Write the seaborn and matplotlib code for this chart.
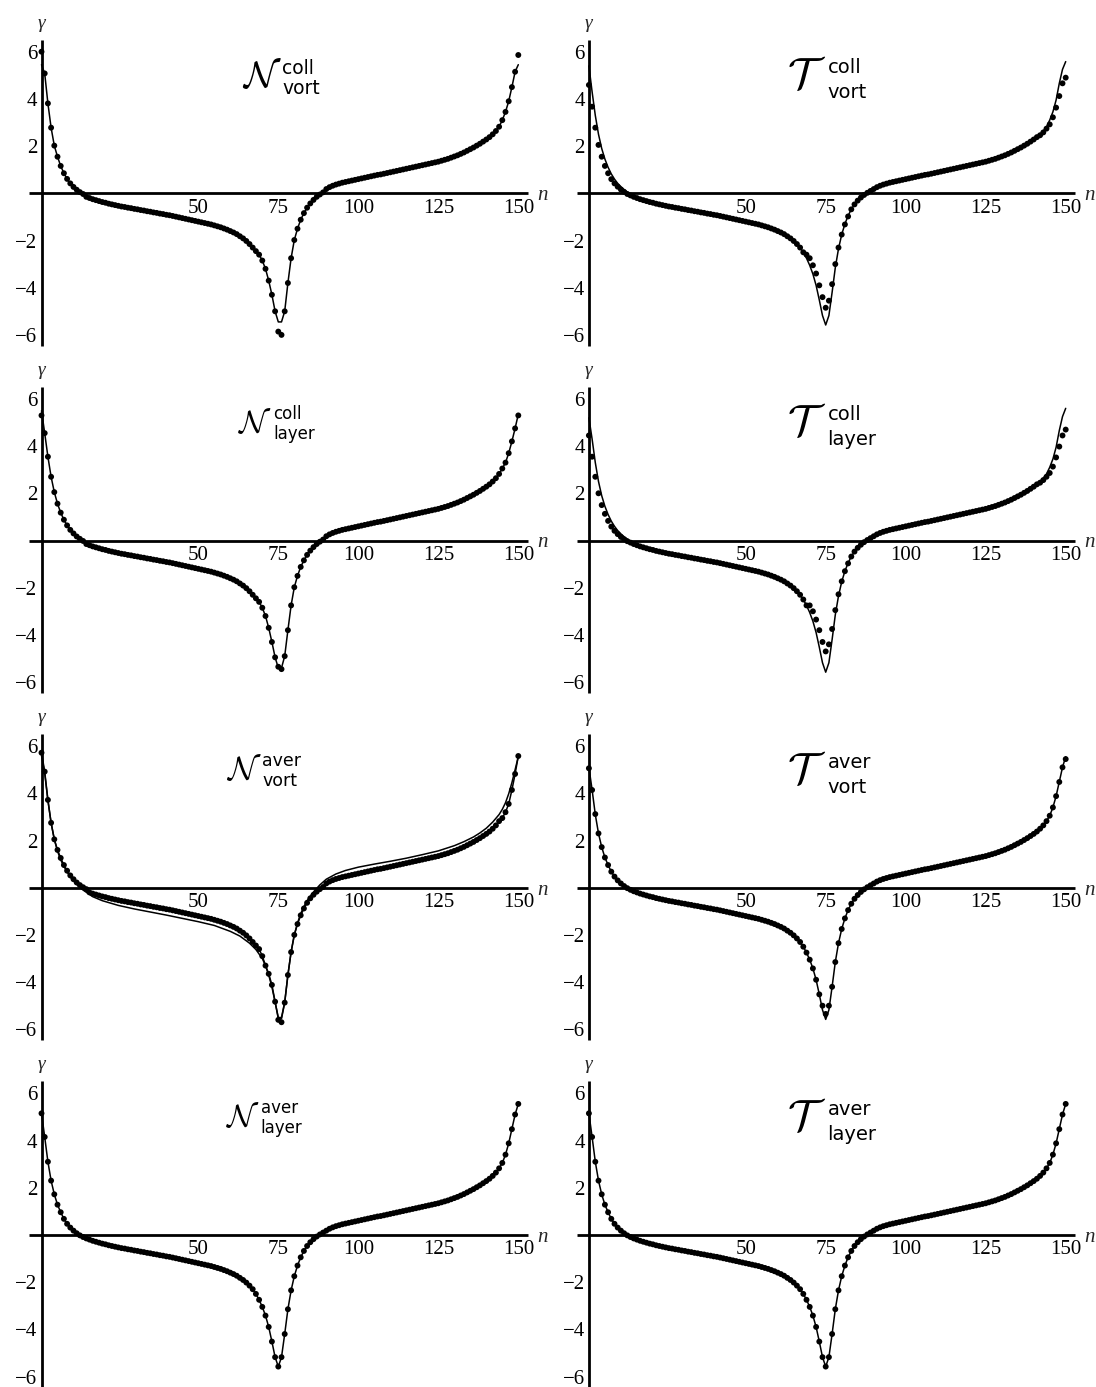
import matplotlib
matplotlib.use("Agg")
import matplotlib.pyplot as plt
import seaborn as sns

# ---------------- data ----------------
N_VALUES = list(range(1, 151))

GAMMA_BASE = [
    5.15, 4.15, 3.10, 2.30, 1.72, 1.28, 0.96, 0.68, 0.47, 0.31,
    0.18, 0.07, -0.02, -0.09, -0.15, -0.20, -0.25, -0.29, -0.33, -0.37,
    -0.40, -0.44, -0.47, -0.50, -0.53, -0.56, -0.58, -0.61, -0.63, -0.66,
    -0.68, -0.71, -0.73, -0.76, -0.78, -0.81, -0.83, -0.86, -0.88, -0.91,
    -0.93, -0.96, -0.99, -1.02, -1.05, -1.08, -1.11, -1.14, -1.17, -1.20,
    -1.23, -1.26, -1.29, -1.32, -1.36, -1.40, -1.44, -1.49, -1.54, -1.60,
    -1.66, -1.73, -1.82, -1.91, -2.02, -2.15, -2.30, -2.50, -2.75, -3.05,
    -3.42, -3.90, -4.52, -5.18, -5.58, -5.18, -4.20, -3.15, -2.35, -1.75,
    -1.30, -0.95, -0.68, -0.47, -0.31, -0.18, -0.07, 0.02, 0.10, 0.18,
    0.26, 0.32, 0.37, 0.41, 0.45, 0.48, 0.51, 0.54, 0.57, 0.60,
    0.63, 0.66, 0.69, 0.72, 0.75, 0.78, 0.80, 0.83, 0.86, 0.89,
    0.92, 0.95, 0.98, 1.01, 1.04, 1.07, 1.10, 1.13, 1.16, 1.19,
    1.22, 1.25, 1.28, 1.31, 1.34, 1.38, 1.42, 1.46, 1.51, 1.56,
    1.61, 1.67, 1.73, 1.80, 1.87, 1.94, 2.02, 2.10, 2.19, 2.28,
    2.38, 2.50, 2.64, 2.82, 3.05, 3.40, 3.88, 4.48, 5.10, 5.55,
]

# panel-specific readings (n -> gamma) where a panel departs from the base curve
NCV_DOTS = {1: 6.0, 2: 5.08, 3: 3.81, 4: 2.78, 5: 2.02, 6: 1.55, 7: 1.16, 8: 0.85,
            9: 0.61, 10: 0.42, 11: 0.27, 12: 0.15, 13: 0.05, 14: -0.03,
            68: -2.45, 69: -2.6, 70: -2.85, 71: -3.2, 72: -3.7, 73: -4.3, 74: -5.0,
            75: -5.86, 76: -6.0, 77: -5.0, 78: -3.8, 79: -2.75, 80: -1.98, 81: -1.5,
            82: -1.12, 83: -0.84, 84: -0.61, 85: -0.43, 86: -0.28, 87: -0.15,
            88: -0.05, 89: 0.04,
            145: 3.1, 146: 3.45, 147: 3.9, 148: 4.5, 149: 5.15, 150: 5.86}
NCV_LINE = {**NCV_DOTS, 1: 5.45, 75: -5.45, 76: -5.45, 150: 5.45}

NCL_DOTS = {1: 5.3, 2: 4.55, 3: 3.55, 4: 2.7, 5: 2.05, 6: 1.56, 7: 1.18, 8: 0.88,
            9: 0.64, 10: 0.45, 11: 0.3, 12: 0.17, 13: 0.07, 14: -0.02,
            68: -2.45, 69: -2.6, 70: -2.85, 71: -3.2, 72: -3.7, 73: -4.3, 74: -4.95,
            75: -5.35, 76: -5.45, 77: -4.9, 78: -3.8, 79: -2.75, 80: -1.98, 81: -1.5,
            82: -1.12, 83: -0.84, 84: -0.61, 85: -0.43, 86: -0.28, 87: -0.15,
            88: -0.05, 89: 0.04,
            146: 3.3, 147: 3.7, 148: 4.2, 149: 4.75, 150: 5.3}
NCL_LINE = {**NCL_DOTS, 1: 5.5, 75: -5.4, 76: -5.4, 150: 5.35}

NAV_DOTS = {1: 5.72, 2: 4.92, 3: 3.72, 4: 2.75, 5: 2.05, 6: 1.6, 7: 1.26, 8: 0.96,
            9: 0.72, 10: 0.52, 11: 0.36, 12: 0.22, 13: 0.11, 14: 0.02, 15: -0.06,
            68: -2.45, 69: -2.6, 70: -2.9, 71: -3.3, 72: -3.65, 73: -4.12, 74: -4.83,
            75: -5.6, 76: -5.7, 77: -4.87, 78: -3.7, 79: -2.73, 80: -2.0, 81: -1.54,
            82: -1.17, 83: -0.88, 84: -0.64, 85: -0.45, 86: -0.3, 87: -0.17,
            88: -0.06, 89: 0.03,
            145: 2.95, 146: 3.2, 147: 3.55, 148: 4.14, 149: 4.82, 150: 5.58}
NAV_LINE = {**NAV_DOTS, 75: -5.55, 76: -5.55}
NAV_LINE2_N = [1, 2, 3, 4, 5, 6, 7, 8, 10, 12, 14, 17, 20, 25, 30, 35, 40, 45, 50,
               55, 60, 63, 66, 68, 70, 71, 72, 73, 74, 75, 76, 77, 78, 79, 80, 81,
               82, 83, 84, 86, 88, 90, 93, 96, 100, 105, 110, 115, 120, 125, 130,
               133, 136, 138, 140, 142, 144, 145, 146, 147, 148, 149, 150]
NAV_LINE2_G = [5.6, 4.85, 3.7, 2.75, 2.05, 1.55, 1.18, 0.9, 0.45, 0.14, -0.1,
               -0.38, -0.55, -0.75, -0.9, -1.03, -1.16, -1.3, -1.44, -1.6, -1.85,
               -2.05, -2.35, -2.62, -3.0, -3.3, -3.7, -4.2, -4.85, -5.5, -5.5, -4.85,
               -3.7, -2.72, -2.0, -1.5, -1.1, -0.8, -0.55, -0.18, 0.12, 0.36, 0.58,
               0.73, 0.87, 1.0, 1.12, 1.25, 1.4, 1.56, 1.78, 1.95, 2.15, 2.32,
               2.52, 2.78, 3.1, 3.32, 3.6, 3.98, 4.45, 5.0, 5.55]

TCV_LINE = {1: 5.4, 2: 4.3, 3: 3.3, 4: 2.5, 5: 1.9, 6: 1.45, 7: 1.1, 8: 0.82, 9: 0.6,
            10: 0.42, 11: 0.28, 12: 0.16, 13: 0.06, 14: -0.03,
            145: 3.1, 146: 3.45, 147: 3.95, 148: 4.66, 149: 5.25, 150: 5.58}
TCV_DOTS = {1: 4.59, 2: 3.67, 3: 2.78, 4: 2.05, 5: 1.55, 6: 1.16, 7: 0.85, 8: 0.6,
            9: 0.42, 10: 0.28, 11: 0.16, 12: 0.06, 13: -0.03,
            69: -2.6, 70: -2.75, 71: -3.05, 72: -3.4, 73: -3.9, 74: -4.4, 75: -4.85,
            76: -4.55, 77: -3.85, 78: -3.0, 79: -2.3, 80: -1.75, 81: -1.32, 82: -0.98,
            142: 2.46, 143: 2.58, 144: 2.74, 145: 2.92, 146: 3.22, 147: 3.63,
            148: 4.12, 149: 4.66, 150: 4.9}

TCL_LINE = {**TCV_LINE, 1: 5.2, 150: 5.6}
TCL_DOTS = {1: 4.45, 2: 3.55, 3: 2.7, 4: 2.0, 5: 1.5, 6: 1.13, 7: 0.83, 8: 0.59,
            9: 0.41, 10: 0.27, 11: 0.15, 12: 0.05, 13: -0.03,
            70: -2.75, 71: -3.0, 72: -3.35, 73: -3.8, 74: -4.3, 75: -4.7, 76: -4.4,
            77: -3.75, 78: -2.95, 79: -2.28, 80: -1.73, 81: -1.3, 82: -0.97,
            142: 2.45, 143: 2.56, 144: 2.7, 145: 2.86, 146: 3.13, 147: 3.52,
            148: 3.98, 149: 4.45, 150: 4.7}

TAV_LINE = {1: 5.1}
TAV_DOTS = {1: 5.06, 2: 4.14, 3: 3.12, 74: -5.0, 75: -5.35, 76: -5.0, 150: 5.45}

NAL_LINE = {}
NAL_DOTS = {}
TAL_LINE = {}
TAL_DOTS = {}

# label parts: (letter, superscript, subscript)
LABELS = [
    ("N", "coll", "vort"), ("T", "coll", "vort"),
    ("N", "coll", "layer"), ("T", "coll", "layer"),
    ("N", "aver", "vort"), ("T", "aver", "vort"),
    ("N", "aver", "layer"), ("T", "aver", "layer"),
]
PANEL_LINES = [NCV_LINE, TCV_LINE, NCL_LINE, TCL_LINE, NAV_LINE, TAV_LINE, NAL_LINE, TAL_LINE]
PANEL_DOTS = [NCV_DOTS, TCV_DOTS, NCL_DOTS, TCL_DOTS, NAV_DOTS, TAV_DOTS, NAL_DOTS, TAL_DOTS]

X_TICKS = [50, 75, 100, 125, 150]
Y_TICKS = [-6, -4, -2, 2, 4, 6]
Y_TICK_LABELS = ["\u22126", "\u22124", "\u22122", "2", "4", "6"]


def series(overrides):
    vals = list(GAMMA_BASE)
    for k, v in overrides.items():
        vals[k - 1] = v
    return vals


# ---------------- style ----------------
sns.set_theme(style="white")
plt.rcParams["font.family"] = ["Liberation Serif", "DejaVu Serif"]
plt.rcParams["mathtext.fontset"] = "custom"
plt.rcParams["mathtext.cal"] = "cmsy10"
plt.rcParams["mathtext.rm"] = "DejaVu Sans"

W, H = 1096, 1387
fig = plt.figure(figsize=(W / 100, H / 100), dpi=100)

XMIN, XMAX = -2.8, 153.0
YMIN, YMAX = -6.45, 6.5
PX_PER_N = 3.2
PX_PER_G = 23.6
COL_X0 = [38.3, 585.7]          # pixel of n = 0
ROW_Y0 = [193.3 + 347.2 * r for r in range(4)]   # pixel of gamma = 0

# (x, baseline y, letter size, script size) for each panel label
LABEL_STYLE = [(63.5, 4.5, 27, 13.5), (63.0, 4.45, 32, 14),
               (62.5, 4.6, 23, 12), (63.0, 4.45, 32, 14),
               (58.5, 4.6, 24, 12.5), (63.0, 4.45, 32, 14),
               (58.5, 4.6, 23, 12), (63.0, 4.45, 32, 14)]

axes = []
for idx in range(8):
    r, c = divmod(idx, 2)
    left = COL_X0[c] + XMIN * PX_PER_N
    width = (XMAX - XMIN) * PX_PER_N
    top = ROW_Y0[r] - YMAX * PX_PER_G
    height = (YMAX - YMIN) * PX_PER_G
    ax = fig.add_axes([left / W, 1 - (top + height) / H, width / W, height / H])
    axes.append(ax)

    line_vals = series(PANEL_LINES[idx])
    dot_vals = series(PANEL_DOTS[idx])

    sns.lineplot(x=N_VALUES, y=line_vals, ax=ax, color="black", linewidth=1.1,
                 estimator=None, sort=False)
    if idx == 4:
        sns.lineplot(x=NAV_LINE2_N, y=NAV_LINE2_G, ax=ax, color="black",
                     linewidth=1.1, estimator=None, sort=False)
    sns.scatterplot(x=N_VALUES, y=dot_vals, ax=ax, color="black", s=18,
                    edgecolor="none", linewidth=0)

    ax.set_xlim(XMIN, XMAX)
    ax.set_ylim(YMIN, YMAX)
    for s in ("top", "right"):
        ax.spines[s].set_visible(False)
    ax.spines["left"].set_position(("data", 1))
    ax.spines["bottom"].set_position(("data", 0))
    for s in ("left", "bottom"):
        ax.spines[s].set_linewidth(2.0)
        ax.spines[s].set_color("black")
        ax.spines[s].set_capstyle("butt")
    ax.set_xticks(X_TICKS)
    ax.set_xticklabels([str(t) for t in X_TICKS])
    ax.set_yticks(Y_TICKS)
    ax.set_yticklabels(Y_TICK_LABELS)
    ax.tick_params(axis="x", direction="in", length=3, width=1.2, pad=4,
                   labelsize=15, colors="black")
    ax.tick_params(axis="y", direction="in", length=3, width=1.2, pad=3,
                   labelsize=15, colors="black")
    ax.set_xlabel("")
    ax.set_ylabel("")
    ax.patch.set_alpha(0)

    ax.text(1, 7.2, "\u03b3", ha="center", va="center", fontsize=14,
            style="italic", clip_on=False)
    ax.text(157.5, -0.1, "n", ha="center", va="center", fontsize=15,
            style="italic", clip_on=False)

# ---------------- panel labels: calligraphic letter + stacked scripts ----------------
fig.canvas.draw()
renderer = fig.canvas.get_renderer()
for idx, ax in enumerate(axes):
    letter, sup, sub = LABELS[idx]
    lx, ly, fl, fs = LABEL_STYLE[idx]
    t = ax.text(lx, ly, r"$\mathcal{%s}$" % letter, ha="left", va="baseline",
                fontsize=fl, color="black")
    bb = t.get_window_extent(renderer=renderer)
    base_y = ax.transData.transform((lx, ly))[1]
    if letter == "T":
        sup_dy, sub_dy = 15, -10
    else:
        sup_dy, sub_dy = 13, -7
    fig.text((bb.x1 + 1) / W, (base_y + sup_dy) / H, sup, ha="left",
             va="baseline", fontsize=fs, family="DejaVu Sans", color="black")
    fig.text((bb.x1 + 1) / W, (base_y + sub_dy) / H, sub, ha="left",
             va="baseline", fontsize=fs, family="DejaVu Sans", color="black")

fig.savefig("out.png", dpi=100)
